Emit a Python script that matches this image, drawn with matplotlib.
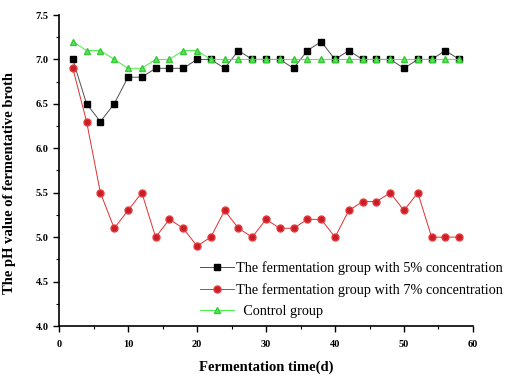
import numpy as np
import matplotlib.pyplot as plt
from matplotlib.ticker import MultipleLocator

plt.rcParams['font.family'] = ['Liberation Serif', 'DejaVu Serif']
plt.rcParams['font.weight'] = 'bold'

days = list(range(2, 60, 2))
ph_5 = [7.0, 6.5, 6.3, 6.5, 6.8, 6.8, 6.9, 6.9, 6.9, 7.0, 7.0, 6.9, 7.1, 7.0, 7.0,
        7.0, 6.9, 7.1, 7.2, 7.0, 7.1, 7.0, 7.0, 7.0, 6.9, 7.0, 7.0, 7.1, 7.0]
ph_7 = [6.9, 6.3, 5.5, 5.1, 5.3, 5.5, 5.0, 5.2, 5.1, 4.9, 5.0, 5.3, 5.1, 5.0, 5.2,
        5.1, 5.1, 5.2, 5.2, 5.0, 5.3, 5.4, 5.4, 5.5, 5.3, 5.5, 5.0, 5.0, 5.0]
ph_ctrl = [7.2, 7.1, 7.1, 7.0, 6.9, 6.9, 7.0, 7.0, 7.1, 7.1, 7.0, 7.0, 7.0, 7.0, 7.0,
           7.0, 7.0, 7.0, 7.0, 7.0, 7.0, 7.0, 7.0, 7.0, 7.0, 7.0, 7.0, 7.0, 7.0]
labels = ["The fermentation group with 5% concentration",
          "The fermentation group with 7% concentration",
          "  Control group"]

fig = plt.figure(figsize=(5.23, 3.76), dpi=100)
ax = fig.add_axes([59 / 523, 1 - 326 / 376, 414 / 523, 311 / 376])

ax.plot(days, ph_5, color='#505050', lw=0.7, marker='s', ms=4.5,
        mfc='black', mec='black', label=labels[0])
ax.plot(days, ph_7, color='#e03030', lw=0.7, marker='o', ms=5,
        mfc='#c81e2a', mec='#e83a3a', label=labels[1])
ax.plot(days, ph_ctrl, color='#44ee44', lw=0.7, marker='^', ms=5,
        mfc='#66dd66', mec='#33cc33', label=labels[2])

ax.set_xlim(0, 60)
ax.set_ylim(4.0, 7.5)
ax.xaxis.set_major_locator(MultipleLocator(10))
ax.xaxis.set_minor_locator(MultipleLocator(5))
ax.yaxis.set_major_locator(MultipleLocator(0.5))
ax.yaxis.set_minor_locator(MultipleLocator(0.25))
ax.spines['top'].set_visible(False)
ax.spines['right'].set_visible(False)
ax.spines['left'].set_linewidth(1.2)
ax.spines['bottom'].set_linewidth(1.2)
ax.tick_params(which='major', direction='out', length=4, width=1, labelsize=7.5)
ax.tick_params(axis='x', which='major', pad=6)
ax.tick_params(which='minor', direction='out', length=2, width=0.8)
ax.set_yticklabels([f"{v:.1f}" for v in ax.get_yticks()])

ax.set_xlabel("Fermentation time(d)", fontsize=10.5, fontweight='bold')
ax.xaxis.set_label_coords(0.5, -0.11)
ax.set_ylabel("The pH value of fermentative broth", fontsize=10.5, fontweight='bold')
ax.yaxis.set_label_coords(-0.105, 0.46)

leg = ax.legend(loc='upper left', bbox_to_anchor=(200 / 523, 1 - 261 / 376),
                bbox_transform=fig.transFigure, frameon=False,
                fontsize=10.3, handlelength=2.4, handletextpad=0.1, labelspacing=0.58,
                borderpad=0, borderaxespad=0)
for t in leg.get_texts():
    t.set_fontweight('normal')

plt.savefig("out.png", dpi=100)
